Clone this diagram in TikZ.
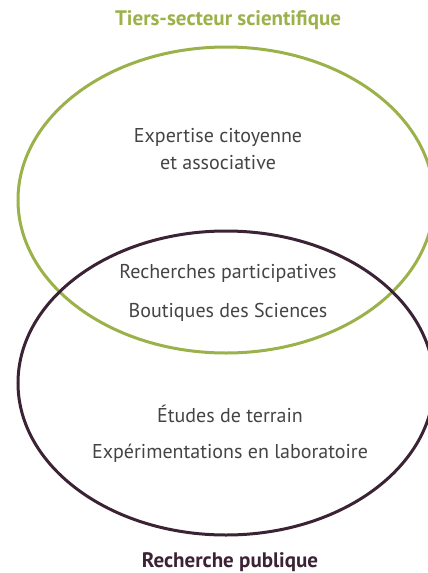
\documentclass[tikz,border=0pt]{standalone}
\usepackage{fontspec}
\setmainfont{PT Sans}
\usepackage{xcolor}
\usetikzlibrary{positioning}
\definecolor{tiersgreen}{HTML}{9BB14A}
\definecolor{rechpurple}{HTML}{3B2234}
\definecolor{bodygray}{HTML}{444444}
\tikzset{
  bodytext/.style={text=bodygray, font=\fontsize{20}{24}\selectfont, align=center, inner sep=0pt},
  titletext/.style={font=\bfseries\fontsize{21}{25}\selectfont, inner sep=0pt}
}

\begin{document}
\begin{tikzpicture}[x=1pt, y=-1pt]
    \useasboundingbox (0,0) rectangle (428,573);
    \begin{scope}
    \clip (0,0) rectangle (428,573);
    % Ellipses
    \draw[tiersgreen, line width=3pt] (226,200) ellipse [x radius=208, y radius=153];
    \draw[rechpurple, line width=3pt] (226,383) ellipse [x radius=208, y radius=152];
    \end{scope}

    % Titles
    \node[titletext, text=tiersgreen] (tiers) at (228,20) {Tiers-secteur scientifique};
    \node[titletext, text=rechpurple] (publique) at (230,562) {Recherche publique};

    % Texts
    \node[bodytext] (expertise) at (218,137) {Expertise citoyenne};
    \node[bodytext] (asso) at (218,163) {et associative};
    \node[bodytext] (particip) at (228,273) {Recherches participatives};
    \node[bodytext] (boutiques) at (228,312) {Boutiques des Sciences};
    \node[bodytext] (terrain) at (230,414) {Études de terrain};
    \node[bodytext] (labo) at (230,453) {Expérimentations en laboratoire};
\end{tikzpicture}
\end{document}
